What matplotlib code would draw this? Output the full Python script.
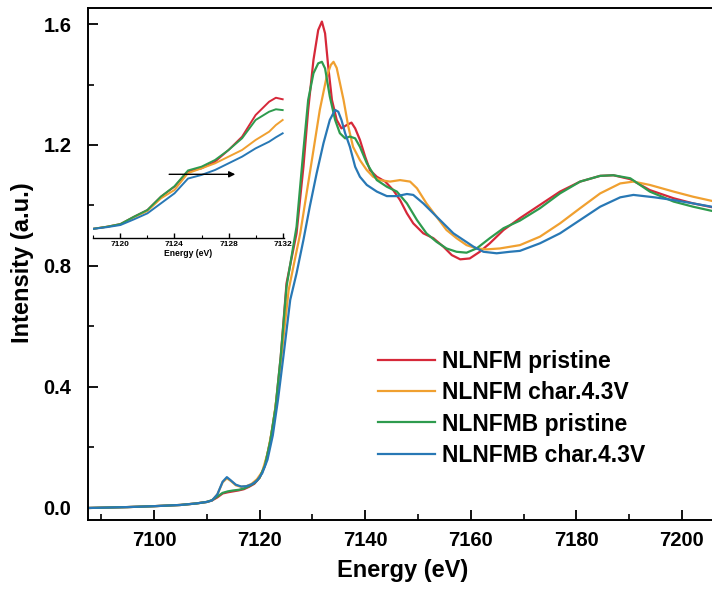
import numpy as np
import matplotlib
matplotlib.use('Agg')
import matplotlib.pyplot as plt
from matplotlib.ticker import MultipleLocator

plt.rcParams['font.family'] = ['Liberation Sans', 'DejaVu Sans']
plt.rcParams['font.weight'] = 'bold'

# ---- main spectra (Energy eV, normalized intensity) ----
e_red = [7087.5, 7095, 7100, 7105, 7108, 7110, 7111, 7112, 7113, 7114, 7115, 7116, 7117, 7118, 7119,
         7120, 7121, 7122, 7123, 7124, 7125.1, 7127.0, 7128.3, 7129.2, 7130.2, 7131.1, 7131.8, 7132.4,
         7133.0, 7133.7, 7134.6, 7135.5, 7136.5, 7137.4, 7138.1, 7139.0, 7140.0, 7140.9, 7142.2, 7143.8,
         7145.3, 7146.6, 7147.9, 7149.1, 7151.0, 7152.9, 7154.8, 7156.4, 7158.0, 7159.8, 7161.7, 7163.6,
         7166.2, 7169.3, 7173.1, 7176.9, 7180.7, 7184.5, 7187.0, 7190.2, 7193.9, 7198.4, 7202.1, 7207.5]
i_red = [0.0, 0.003, 0.006, 0.01, 0.015, 0.02, 0.025, 0.035, 0.048, 0.052, 0.055, 0.058, 0.062, 0.07, 0.08,
         0.10, 0.14, 0.22, 0.33, 0.50, 0.743, 0.908, 1.128, 1.316, 1.481, 1.580, 1.608, 1.569,
         1.459, 1.349, 1.283, 1.255, 1.266, 1.274, 1.255, 1.217, 1.161, 1.117, 1.095, 1.079,
         1.051, 1.018, 0.974, 0.941, 0.908, 0.892, 0.864, 0.836, 0.822, 0.825, 0.847, 0.875,
         0.919, 0.958, 1.002, 1.046, 1.079, 1.098, 1.100, 1.087, 1.051, 1.024, 1.007, 0.988]

e_orange = [7087.5, 7095, 7100, 7105, 7108, 7110, 7111, 7112, 7113, 7113.8, 7114.5, 7115.5, 7116.5, 7117.5,
            7118.5, 7119.5, 7120.5, 7121.5, 7122.5, 7123.5, 7124.5, 7125.5, 7126.4, 7127.7, 7128.9, 7130.2,
            7131.4, 7132.7, 7133.5, 7134.0, 7134.6, 7135.9, 7136.8, 7137.7, 7139.0, 7140.3, 7141.5, 7142.8,
            7144.7, 7146.6, 7148.5, 7149.8, 7151.6, 7153.5, 7155.4, 7157.3, 7159.2, 7161.1, 7163.0, 7165.5,
            7169.3, 7173.1, 7176.9, 7180.7, 7184.5, 7188.3, 7190.8, 7193.9, 7198.4, 7202.1, 7207.5]
i_orange = [0.0, 0.003, 0.006, 0.01, 0.015, 0.02, 0.025, 0.045, 0.085, 0.098, 0.09, 0.075, 0.07, 0.072,
            0.08, 0.095, 0.12, 0.18, 0.27, 0.40, 0.56, 0.72, 0.798, 0.908, 1.040, 1.183,
            1.316, 1.426, 1.465, 1.475, 1.455, 1.349, 1.261, 1.194, 1.150, 1.117, 1.095, 1.084,
            1.079, 1.084, 1.079, 1.057, 1.007, 0.963, 0.919, 0.892, 0.869, 0.858, 0.855, 0.858,
            0.869, 0.897, 0.941, 0.991, 1.040, 1.073, 1.079, 1.068, 1.046, 1.029, 1.008]

e_green = [7087.5, 7095, 7100, 7105, 7108, 7110, 7111, 7112, 7113, 7114, 7115, 7116, 7117, 7118, 7119,
           7120, 7121, 7122, 7123, 7124, 7125.1, 7127.0, 7128.3, 7129.2, 7130.2, 7131.1, 7131.8, 7132.4,
           7133.3, 7134.3, 7135.2, 7136.2, 7137.1, 7138.1, 7139.0, 7140.3, 7142.2, 7144.1, 7146.0, 7147.9,
           7149.8, 7151.6, 7153.5, 7155.4, 7157.3, 7159.2, 7161.1, 7163.6, 7166.2, 7169.3, 7173.1, 7176.9,
           7180.7, 7184.5, 7187.0, 7190.2, 7193.9, 7198.4, 7202.1, 7207.5]
i_green = [0.0, 0.003, 0.006, 0.01, 0.015, 0.02, 0.026, 0.038, 0.05, 0.055, 0.058, 0.06, 0.064, 0.072, 0.082,
           0.10, 0.14, 0.22, 0.33, 0.50, 0.732, 0.930, 1.183, 1.349, 1.437, 1.470, 1.475, 1.453,
           1.360, 1.283, 1.239, 1.222, 1.228, 1.222, 1.194, 1.140, 1.084, 1.062, 1.046, 1.007,
           0.952, 0.908, 0.880, 0.858, 0.847, 0.844, 0.858, 0.892, 0.925, 0.950, 0.991, 1.040,
           1.079, 1.098, 1.100, 1.090, 1.046, 1.013, 0.996, 0.975]

e_blue = [7087.5, 7095, 7100, 7105, 7108, 7110, 7111, 7112, 7113, 7113.8, 7114.5, 7115.5, 7116.5, 7117.5,
          7118.5, 7119.5, 7120.5, 7121.5, 7122.5, 7123.5, 7124.5, 7125.8, 7127.0, 7128.3, 7129.5, 7130.8,
          7132.1, 7133.3, 7134.3, 7134.9, 7135.5, 7136.2, 7137.1, 7138.1, 7139.0, 7140.3, 7142.2, 7144.1,
          7146.0, 7147.9, 7149.1, 7151.0, 7152.9, 7154.8, 7156.7, 7158.6, 7160.5, 7162.4, 7164.9, 7167.4,
          7169.3, 7173.1, 7176.9, 7180.7, 7184.5, 7188.3, 7190.8, 7194.8, 7198.4, 7202.1, 7207.5]
i_blue = [0.0, 0.003, 0.006, 0.01, 0.015, 0.02, 0.025, 0.045, 0.087, 0.102, 0.092, 0.077, 0.071, 0.072,
          0.078, 0.09, 0.115, 0.16, 0.24, 0.36, 0.50, 0.688, 0.776, 0.886, 0.996, 1.106,
          1.206, 1.283, 1.316, 1.310, 1.283, 1.239, 1.194, 1.128, 1.095, 1.068, 1.046, 1.031,
          1.031, 1.038, 1.035, 1.007, 0.974, 0.941, 0.908, 0.886, 0.864, 0.847, 0.842, 0.847,
          0.850, 0.875, 0.908, 0.952, 0.996, 1.027, 1.035, 1.027, 1.018, 1.007, 0.990]

# ---- inset: zoomed rising edge ----
e_inset = [7117.9, 7119, 7120, 7121, 7122, 7123, 7124, 7125, 7126, 7127, 7128, 7129, 7130, 7131, 7131.5, 7132]
in_red = [0.10, 0.125, 0.155, 0.236, 0.311, 0.459, 0.57, 0.74, 0.773, 0.847, 0.977, 1.125, 1.365, 1.513, 1.557, 1.54]
in_green = [0.10, 0.125, 0.155, 0.236, 0.311, 0.46, 0.575, 0.75, 0.792, 0.866, 0.977, 1.107, 1.31, 1.402, 1.429, 1.42]
in_orange = [0.10, 0.125, 0.15, 0.23, 0.30, 0.44, 0.533, 0.72, 0.773, 0.829, 0.903, 0.977, 1.088, 1.18, 1.254, 1.31]
in_blue = [0.10, 0.12, 0.144, 0.207, 0.274, 0.385, 0.496, 0.66, 0.70, 0.755, 0.829, 0.903, 0.995, 1.069, 1.118, 1.162]

labels = ['NLNFM pristine', 'NLNFM char.4.3V', 'NLNFMB pristine', 'NLNFMB char.4.3V']
colors = ['#D62839', '#F0A030', '#2E9B4E', '#2878B5']

W, H = 712, 596
fig = plt.figure(figsize=(W / 100, H / 100), dpi=100)
ax = fig.add_axes([88 / W, 76 / H, 633.6 / W, 512 / H])

series = [(e_red, i_red), (e_orange, i_orange), (e_green, i_green), (e_blue, i_blue)]
for (e, v), c, lab in zip(series, colors, labels):
    ax.plot(e, v, color=c, lw=1.6, label=lab)

ax.set_xlim(7087.5, 7207.5)
ax.set_ylim(-0.0397, 1.6529)
ax.xaxis.set_major_locator(MultipleLocator(20))
ax.xaxis.set_minor_locator(MultipleLocator(10))
ax.yaxis.set_major_locator(MultipleLocator(0.4))
ax.yaxis.set_minor_locator(MultipleLocator(0.2))
ax.yaxis.set_major_formatter(matplotlib.ticker.FormatStrFormatter('%.1f'))
ax.tick_params(which='major', direction='in', length=7, width=1.3, labelsize=14.5, pad=8)
ax.tick_params(which='minor', direction='in', length=4, width=1.2)
ax.tick_params(axis='y', which='major', pad=12)
for s in ax.spines.values():
    s.set_linewidth(1.4)

ax.set_xlabel('Energy (eV)', fontsize=17, fontweight='bold', va='center')
ax.xaxis.set_label_coords(0.497, -0.0996)
ax.set_ylabel('Intensity (a.u.)', fontsize=17, fontweight='bold', va='center')
ax.yaxis.set_label_coords(-0.1026, 0.502)

leg = ax.legend(loc='upper left', bbox_to_anchor=(378 / W, 1 - 350 / H), bbox_transform=fig.transFigure,
                frameon=False, fontsize=16.5, handlelength=2.5, handletextpad=0.3,
                labelspacing=0.36, borderpad=0, borderaxespad=0)
for line in leg.get_lines():
    line.set_linewidth(1.6)

# inset
axi = fig.add_axes([92.7 / W, (H - 238) / H, (284 - 92.7) / W, 178 / H])
axi.set_facecolor('none')
for (v, c) in zip([in_red, in_orange, in_green, in_blue], colors):
    axi.plot(e_inset, v, color=c, lw=1.4)
axi.set_xlim(7117.95, 7132.1)
axi.set_ylim(0.0, 1.976)
for k in ['left', 'top', 'right']:
    axi.spines[k].set_visible(False)
axi.spines['bottom'].set_linewidth(1.0)
axi.set_yticks([])
axi.set_xticks([7120, 7124, 7128, 7132])
axi.xaxis.set_minor_locator(MultipleLocator(2))
axi.tick_params(which='major', direction='in', length=3.5, width=1.0, labelsize=6, pad=2)
axi.tick_params(which='minor', direction='in', length=2, width=0.8)
axi.set_xlabel('Energy (eV)', fontsize=6.2, fontweight='bold', labelpad=1)
axi.annotate('', xy=(7128.7, 0.707), xytext=(7123.4, 0.707),
             arrowprops=dict(arrowstyle='-|>', color='black', lw=1.0, mutation_scale=9))

fig.savefig('out.png', dpi=100)
